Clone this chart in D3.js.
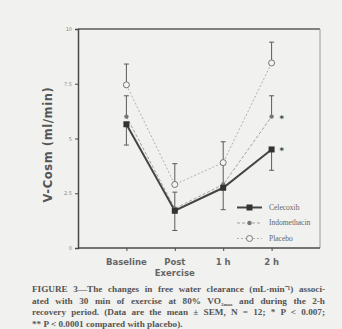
<!DOCTYPE html>
<html>
<head>
<meta charset="utf-8">
<script src="https://cdn.jsdelivr.net/npm/d3@7"></script>
<style>
  html, body { margin: 0; padding: 0; background: #f1f1ef; }
  svg { display: block; }
</style>
</head>
<body>
<div id="chart"></div>
<script>
// time points and group data (V-Cosm, ml/min, mean and SEM)
const timepoints = ["Baseline", "Post", "1 h", "2 h"];
const celecoxib = [5.65, 1.7, 2.75, 4.5];
const celecoxibSem = [0.95, 0.9, 1.0, 0.95];
const indomethacin = [6.0, 1.8, 2.9, 6.0];
const indomethacinSem = [0.95, 0.75, 0.9, 0.95];
const placebo = [7.45, 2.9, 3.9, 8.45];
const placeboSem = [0.95, 0.95, 0.95, 0.95];
const yTicks = [0, 2.5, 5, 7.5, 10];
const captionLines = [
  "FIGURE 3\u2014The changes in free water clearance (mL\u00b7min\u207b\u00b9) associ-",
  "ated with 30 min of exercise at 80% VO",
  "recovery period. (Data are the mean \u00b1 SEM, N = 12; * P < 0.007;",
  "** P < 0.0001 compared with placebo)."
];

(function() {
  const width = 342, height = 329;
  const margin = {left: 78, right: 22, top: 29, bottom: 81};

  const svg = d3.select("#chart").append("svg")
    .attr("width", width)
    .attr("height", height);

  const x = d3.scalePoint()
    .domain(timepoints)
    .range([margin.left, width - margin.right])
    .padding(1);

  const y = d3.scaleLinear()
    .domain([0, 10])
    .range([height - margin.bottom, margin.top]);

  const ink = "#4a4a4a";

  // frame: dark top edge, light right edge
  svg.append("line")
    .attr("x1", margin.left).attr("x2", width - margin.right)
    .attr("y1", margin.top).attr("y2", margin.top)
    .attr("stroke", "#5a5a5a").attr("stroke-width", 1.3);
  svg.append("line")
    .attr("x1", width - margin.right).attr("x2", width - margin.right)
    .attr("y1", margin.top).attr("y2", height - margin.bottom)
    .attr("stroke", "#9a9a9a").attr("stroke-width", 1);

  // y axis
  const yAxis = svg.append("g")
    .attr("transform", `translate(${margin.left},0)`)
    .call(d3.axisLeft(y).tickValues(yTicks).tickSize(3).tickPadding(3).tickFormat(d3.format("")));
  yAxis.select(".domain").attr("stroke", ink).attr("stroke-width", 1.5);
  yAxis.selectAll("line").attr("stroke", ink);
  yAxis.selectAll("text").attr("fill", "#888").attr("font-size", 5).attr("font-family", "DejaVu Sans");

  // x axis
  const xAxis = svg.append("g")
    .attr("transform", `translate(0,${height - margin.bottom})`)
    .call(d3.axisBottom(x).tickSize(3).tickFormat(""));
  xAxis.select(".domain").attr("d", `M${margin.left},0H${width - margin.right}`)
    .attr("stroke", ink).attr("stroke-width", 1.5);
  xAxis.selectAll("line").attr("stroke", ink);

  const xLabels = svg.append("g")
    .attr("font-family", "DejaVu Sans")
    .attr("font-weight", "bold")
    .attr("font-size", 8.5)
    .attr("fill", "#666")
    .attr("text-anchor", "middle");
  xLabels.selectAll("text")
    .data(timepoints)
    .join("text")
    .attr("x", d => x(d))
    .attr("y", height - margin.bottom + 17)
    .text(d => d);
  xLabels.append("text")
    .attr("x", x("Post"))
    .attr("y", height - margin.bottom + 28)
    .text("Exercise");

  // y label
  svg.append("text")
    .attr("transform", `translate(52,${(margin.top + height - margin.bottom) / 2 + 6}) rotate(-90)`)
    .attr("text-anchor", "middle")
    .attr("font-family", "DejaVu Sans")
    .attr("font-weight", "bold")
    .attr("font-size", 11.5)
    .attr("letter-spacing", 0.6)
    .attr("fill", "#555")
    .text("V-Cosm (ml/min)");

  const series = [
    {name: "Celecoxib", values: celecoxib, sem: celecoxibSem, dir: -1,
     stroke: "#454545", width: 2, dash: null, marker: "square"},
    {name: "Indomethacin", values: indomethacin, sem: indomethacinSem, dir: 1,
     stroke: "#a0a0a0", width: 1, dash: "3,2", marker: "dot"},
    {name: "Placebo", values: placebo, sem: placeboSem, dir: 1,
     stroke: "#b0b0b0", width: 1, dash: "2,2", marker: "circle"}
  ];

  const line = d3.line()
    .x((d, i) => x(timepoints[i]))
    .y(d => y(d));

  function drawMarker(g, type, cx, cy) {
    if (type === "square") {
      g.append("rect").attr("x", cx - 3).attr("y", cy - 3).attr("width", 6).attr("height", 6)
        .attr("fill", "#333");
    } else if (type === "dot") {
      g.append("circle").attr("cx", cx).attr("cy", cy).attr("r", 2.2).attr("fill", "#777");
    } else {
      g.append("circle").attr("cx", cx).attr("cy", cy).attr("r", 3)
        .attr("fill", "#f4f4f2").attr("stroke", "#777").attr("stroke-width", 1);
    }
  }

  // error bars (one-sided)
  series.forEach(s => {
    const g = svg.append("g").attr("stroke", "#5a5a5a").attr("stroke-width", 1);
    s.values.forEach((v, i) => {
      const cx = x(timepoints[i]);
      const end = y(v + s.dir * s.sem[i]);
      g.append("line").attr("x1", cx).attr("x2", cx).attr("y1", y(v)).attr("y2", end);
      g.append("line").attr("x1", cx - 2.5).attr("x2", cx + 2.5).attr("y1", end).attr("y2", end);
    });
  });

  // lines, drawn lightest first
  series.slice().reverse().forEach(s => {
    svg.append("path")
      .datum(s.values)
      .attr("d", line)
      .attr("fill", "none")
      .attr("stroke", s.stroke)
      .attr("stroke-width", s.width)
      .attr("stroke-dasharray", s.dash);
  });
  series.slice().reverse().forEach(s => {
    const g = svg.append("g");
    s.values.forEach((v, i) => drawMarker(g, s.marker, x(timepoints[i]), y(v)));
  });

  // significance stars at 2 h
  [indomethacin, celecoxib].forEach(vals => {
    svg.append("text")
      .attr("x", x("2 h") + 8)
      .attr("y", y(vals[3]) + 5)
      .attr("font-family", "DejaVu Sans")
      .attr("font-weight", "bold")
      .attr("font-size", 8.5)
      .attr("fill", "#444")
      .text("*");
  });

  // legend
  const legend = svg.append("g")
    .attr("transform", `translate(237,${y(1.85)})`);
  series.forEach((s, i) => {
    const row = legend.append("g").attr("transform", `translate(0,${i * 15.5})`);
    row.append("line").attr("x1", 0).attr("x2", 25).attr("y1", 0).attr("y2", 0)
      .attr("stroke", s.stroke).attr("stroke-width", s.width).attr("stroke-dasharray", s.dash);
    drawMarker(row, s.marker, 12.5, 0);
    row.append("text").attr("x", 32).attr("y", 2.5)
      .attr("font-family", "Liberation Serif")
      .attr("font-size", 7.5)
      .attr("fill", "#666")
      .text(s.name);
  });

  // caption, justified by widening word gaps
  const cap = svg.append("g")
    .attr("font-family", "Liberation Serif")
    .attr("font-weight", "bold")
    .attr("font-size", 9.2)
    .attr("fill", "#555");
  const capX = 32, capW = 293;
  const rows = [292, 303.5, 315, 326.5];
  captionLines.forEach((t, i) => {
    const txt = cap.append("text").attr("x", capX).attr("y", rows[i]);
    txt.text(t);
    let full = t;
    if (i === 1) {
      txt.append("tspan").attr("font-size", 5).attr("dy", 2).text("2max");
      txt.append("tspan").attr("dy", -2).text(" and during the 2-h");
      full += " and during the 2-h";
    }
    if (i < 3) {
      const len = txt.node().getComputedTextLength();
      const gaps = (full.match(/ /g) || []).length;
      if (gaps) txt.attr("word-spacing", Math.max(0, (capW - len) / gaps));
    }
  });
})();
</script>
</body>
</html>
